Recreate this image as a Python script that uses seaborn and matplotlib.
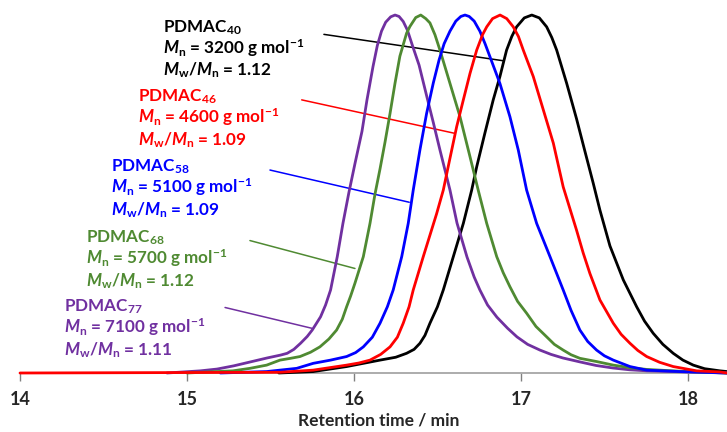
import numpy as np
import pandas as pd
import matplotlib
matplotlib.use("Agg")
import matplotlib.pyplot as plt
import seaborn as sns

# ---------------- data ----------------
x_pdmac77 = [14.88, 15.08, 15.18, 15.28, 15.38, 15.48, 15.56, 15.60, 15.64, 15.68,
             15.72, 15.75, 15.80, 15.83, 15.86, 15.90, 15.934, 15.97, 16.006, 16.048,
             16.078, 16.114, 16.14, 16.165, 16.19, 16.22, 16.246, 16.27, 16.295, 16.32,
             16.35, 16.39, 16.437, 16.475, 16.515, 16.575, 16.617, 16.677, 16.72, 16.754,
             16.80, 16.856, 16.92, 16.976, 17.04, 17.114, 17.18, 17.251, 17.353, 17.45,
             17.551, 17.65, 17.754, 17.99, 18.234]
y_pdmac77 = [0.000, 0.006, 0.011, 0.020, 0.031, 0.042, 0.050, 0.055, 0.066, 0.083,
             0.102, 0.120, 0.157, 0.190, 0.232, 0.325, 0.418, 0.505, 0.585, 0.675,
             0.763, 0.856, 0.915, 0.955, 0.980, 0.995, 1.000, 0.996, 0.982, 0.958,
             0.915, 0.860, 0.771, 0.700, 0.623, 0.511, 0.419, 0.324, 0.268, 0.232,
             0.190, 0.156, 0.125, 0.101, 0.080, 0.064, 0.052, 0.042, 0.031, 0.021,
             0.014, 0.009, 0.006, 0.003, 0.000]

x_pdmac68 = [15.00, 15.18, 15.275, 15.377, 15.477, 15.557, 15.62, 15.677, 15.74, 15.796,
             15.85, 15.896, 15.93, 15.956, 15.98, 16.006, 16.056, 16.096, 16.126, 16.156,
             16.186, 16.216, 16.246, 16.275, 16.315, 16.335, 16.37, 16.40, 16.43, 16.455,
             16.485, 16.515, 16.575, 16.635, 16.695, 16.744, 16.795, 16.855, 16.894, 16.934,
             16.98, 17.034, 17.09, 17.154, 17.20, 17.253, 17.30, 17.353, 17.453, 17.553,
             17.65, 17.753, 17.99, 18.234]
y_pdmac68 = [0.000, 0.004, 0.006, 0.013, 0.022, 0.036, 0.041, 0.046, 0.058, 0.073,
             0.095, 0.120, 0.150, 0.185, 0.215, 0.251, 0.325, 0.418, 0.500, 0.570,
             0.645, 0.725, 0.810, 0.885, 0.949, 0.968, 0.993, 1.000, 0.990, 0.978,
             0.945, 0.902, 0.809, 0.716, 0.604, 0.511, 0.418, 0.325, 0.280, 0.241,
             0.200, 0.167, 0.130, 0.101, 0.080, 0.064, 0.051, 0.041, 0.032, 0.022,
             0.015, 0.010, 0.004, 0.000]

x_pdmac58 = [15.20, 15.477, 15.557, 15.657, 15.756, 15.86, 15.956, 16.01, 16.056, 16.11,
             16.156, 16.20, 16.235, 16.286, 16.325, 16.355, 16.395, 16.435, 16.475, 16.51,
             16.54, 16.575, 16.61, 16.64, 16.665, 16.69, 16.72, 16.754, 16.785, 16.814,
             16.874, 16.934, 16.984, 17.034, 17.094, 17.174, 17.253, 17.30, 17.353, 17.40,
             17.453, 17.50, 17.553, 17.653, 17.753, 17.952, 18.234]
y_pdmac58 = [0.000, 0.004, 0.008, 0.013, 0.027, 0.036, 0.046, 0.057, 0.073, 0.100,
             0.139, 0.185, 0.232, 0.325, 0.418, 0.511, 0.623, 0.725, 0.810, 0.875,
             0.920, 0.955, 0.983, 0.996, 1.000, 0.996, 0.983, 0.955, 0.920, 0.884,
             0.809, 0.716, 0.623, 0.511, 0.418, 0.325, 0.232, 0.175, 0.120, 0.088,
             0.064, 0.048, 0.036, 0.018, 0.008, 0.004, 0.000]

x_pdmac46 = [14.00, 15.557, 15.756, 15.956, 16.03, 16.096, 16.16, 16.216, 16.26, 16.295,
             16.33, 16.355, 16.415, 16.455, 16.495, 16.535, 16.575, 16.615, 16.655, 16.695,
             16.735, 16.77, 16.795, 16.83, 16.875, 16.915, 16.954, 16.985, 17.014, 17.074,
             17.134, 17.194, 17.253, 17.333, 17.373, 17.413, 17.473, 17.553, 17.60, 17.653,
             17.70, 17.753, 17.83, 17.912, 18.052, 18.19, 18.234]
y_pdmac46 = [0.000, 0.002, 0.008, 0.022, 0.028, 0.036, 0.052, 0.073, 0.100, 0.139,
             0.185, 0.232, 0.325, 0.385, 0.445, 0.511, 0.600, 0.688, 0.763, 0.837,
             0.902, 0.945, 0.967, 0.990, 1.000, 0.990, 0.967, 0.940, 0.902, 0.828,
             0.735, 0.642, 0.520, 0.399, 0.335, 0.278, 0.204, 0.139, 0.108, 0.083,
             0.063, 0.046, 0.030, 0.018, 0.006, 0.003, 0.000]

x_pdmac40 = [15.55, 15.756, 15.956, 16.156, 16.25, 16.315, 16.36, 16.395, 16.425, 16.455,
             16.50, 16.535, 16.595, 16.655, 16.705, 16.735, 16.784, 16.834, 16.874, 16.914,
             16.945, 16.974, 17.02, 17.065, 17.11, 17.154, 17.185, 17.214, 17.274, 17.333,
             17.38, 17.433, 17.473, 17.533, 17.613, 17.693, 17.74, 17.792, 17.85, 17.912,
             17.97, 18.032, 18.10, 18.192, 18.234]
y_pdmac40 = [0.000, 0.004, 0.018, 0.036, 0.044, 0.055, 0.066, 0.083, 0.105, 0.139,
             0.185, 0.232, 0.325, 0.418, 0.511, 0.576, 0.670, 0.763, 0.828, 0.902,
             0.940, 0.967, 0.992, 1.000, 0.992, 0.967, 0.937, 0.902, 0.809, 0.710,
             0.625, 0.530, 0.455, 0.355, 0.260, 0.185, 0.145, 0.111, 0.080, 0.055,
             0.036, 0.022, 0.012, 0.006, 0.004]

samples = ["PDMAC40", "PDMAC77", "PDMAC68", "PDMAC58", "PDMAC46"]
label_order = ["PDMAC40", "PDMAC46", "PDMAC58", "PDMAC68", "PDMAC77"]
dp = {"PDMAC40": "40", "PDMAC46": "46", "PDMAC58": "58", "PDMAC68": "68", "PDMAC77": "77"}
mn_values = {"PDMAC40": "3200", "PDMAC46": "4600", "PDMAC58": "5100", "PDMAC68": "5700", "PDMAC77": "7100"}
dispersity = {"PDMAC40": "1.12", "PDMAC46": "1.09", "PDMAC58": "1.09", "PDMAC68": "1.12", "PDMAC77": "1.11"}
colors = {"PDMAC40": "#000000", "PDMAC46": "#ff0000", "PDMAC58": "#0000ff",
          "PDMAC68": "#4f8a32", "PDMAC77": "#7030a0"}

# annotation: first-line baseline anchor (x, y) and pointer line (x1, y1, x2, y2), data units
label_pos = {"PDMAC40": (14.856, 0.9525), "PDMAC46": (14.707, 0.758), "PDMAC58": (14.545, 0.5623),
             "PDMAC68": (14.395, 0.364), "PDMAC77": (14.263, 0.171)}
line_step = 0.0606
pointer = {"PDMAC40": (15.82, 0.946, 16.898, 0.872), "PDMAC46": (15.687, 0.763, 16.599, 0.670),
           "PDMAC58": (15.497, 0.567, 16.331, 0.477), "PDMAC68": (15.377, 0.370, 16.006, 0.292),
           "PDMAC77": (15.228, 0.183, 15.747, 0.125)}

xticks = [14, 15, 16, 17, 18]
xlabel = "Retention time / min"

# ---------------- build table ----------------
series = {"PDMAC77": (x_pdmac77, y_pdmac77), "PDMAC68": (x_pdmac68, y_pdmac68),
          "PDMAC58": (x_pdmac58, y_pdmac58), "PDMAC46": (x_pdmac46, y_pdmac46),
          "PDMAC40": (x_pdmac40, y_pdmac40)}
rows = []
for name, (xs, ys) in series.items():
    for xv, yv in zip(xs, ys):
        rows.append({"sample": name, "time": xv, "signal": yv})
df = pd.DataFrame(rows)

# ---------------- style ----------------
sns.set_theme(style="white")
plt.rcParams["font.family"] = ["Lato", "DejaVu Sans"]
plt.rcParams["mathtext.fontset"] = "custom"
plt.rcParams["mathtext.rm"] = "Lato:bold"
plt.rcParams["mathtext.bf"] = "Lato:bold"
plt.rcParams["mathtext.it"] = "Lato:italic:bold"

fig = plt.figure(figsize=(7.27, 4.32), dpi=100)
ax = fig.add_axes([20 / 727, 59 / 432, 707 / 727, 373 / 432])

sns.lineplot(data=df, x="time", y="signal", hue="sample", hue_order=samples,
             palette=colors, estimator=None, sort=False, linewidth=2.0,
             legend=False, ax=ax, clip_on=False, zorder=3,
             solid_joinstyle="round", solid_capstyle="round")

ax.set_xlim(14, 18.234)
ax.set_ylim(0, 1.042)
ax.set_yticks([])
ax.set_xticks(xticks)
ax.set_xticklabels([str(t) for t in xticks], fontsize=13, fontweight="bold")
ax.set_xlabel(xlabel, fontsize=12.5, fontweight="bold", va="center")
ax.xaxis.set_label_coords((379 - 20) / 707, -(421 - 373) / 373)
ax.set_ylabel("")
for s in ["top", "right", "left"]:
    ax.spines[s].set_visible(False)
ax.spines["bottom"].set_color("#a6a6a6")
ax.spines["bottom"].set_linewidth(1.3)
ax.spines["bottom"].set_zorder(1)
ax.tick_params(axis="x", direction="out", length=6, width=1.0, color="#808080",
               pad=7, bottom=True)

for name in label_order:
    c = colors[name]
    x1, y1, x2, y2 = pointer[name]
    ax.plot([x1, x2], [y1, y2], color=c, lw=1.1, zorder=2)
    tx, ty = label_pos[name]
    lines = [f"PDMAC$_{{{dp[name]}}}$",
             f"$\\mathit{{M}}_\\mathrm{{n}}$ = {mn_values[name]} g mol$^{{-1}}$",
             f"$\\mathit{{M}}_\\mathrm{{w}}\\mathit{{/M}}_\\mathrm{{n}}$ = {dispersity[name]}"]
    for i, ln in enumerate(lines):
        ax.text(tx, ty - i * line_step, ln, color=c, fontsize=12.3, fontweight="bold",
                ha="left", va="baseline", zorder=4)

fig.savefig("out.png", dpi=100)
